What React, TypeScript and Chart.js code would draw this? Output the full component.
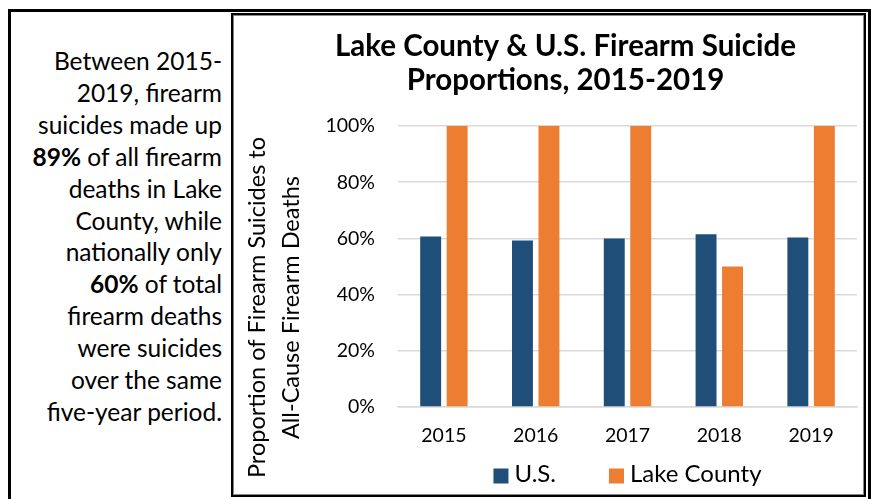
import React, { useEffect, useRef } from 'react';
import { Chart, registerables } from 'chart.js';
Chart.register(...registerables);

const categories = ['2015', '2016', '2017', '2018', '2019'];
const usValues = [60.7, 59.3, 60.0, 61.5, 60.3];
const lakeValues = [100, 100, 100, 50, 100];
const seriesNames = ['U.S.', 'Lake County'];
const seriesColors = ['#1F4E79', '#ED7D31'];
const chartTitle = ['Lake County & U.S. Firearm Suicide', 'Proportions, 2015-2019'];
const yAxisTitle = ['Proportion of Firearm Suicides to', 'All-Cause Firearm Deaths'];
const yMin = 0;
const yMax = 100;
const yStep = 20;

const FONT = 'Lato, Carlito, "Open Sans", sans-serif';

const yTitlePlugin = {
  id: 'yTitle',
  afterDraw(chart: any) {
    const ctx = chart.ctx;
    const area = chart.chartArea;
    ctx.save();
    ctx.fillStyle = '#000';
    ctx.font = `23.5px ${FONT}`;
    ctx.textAlign = 'center';
    ctx.textBaseline = 'middle';
    const cy = (area.top + area.bottom) / 2 + 41;
    const xs = [area.left - 140.5, area.left - 107];
    yAxisTitle.forEach((t, i) => {
      ctx.save();
      ctx.translate(xs[i], cy);
      ctx.rotate(-Math.PI / 2);
      ctx.fillText(t, 0, 0);
      ctx.restore();
    });
    ctx.restore();
  },
};

const legendPlugin = {
  id: 'bottomLegend',
  afterDraw(chart: any) {
    const ctx = chart.ctx;
    const area = chart.chartArea;
    ctx.save();
    ctx.font = `24px ${FONT}`;
    const box = 15;
    const gap = 6;
    const spacing = 53;
    const items = chart.data.datasets.map((ds: any) => ({
      text: ds.label,
      color: ds.backgroundColor,
      w: ctx.measureText(ds.label).width,
    }));
    const total =
      items.reduce((s: number, it: any) => s + box + gap + it.w, 0) + spacing * (items.length - 1);
    let x = (area.left + area.right) / 2 - total / 2;
    const cy = area.bottom + 68;
    items.forEach((it: any) => {
      ctx.fillStyle = it.color;
      ctx.fillRect(x, cy - 6.5, box, box);
      ctx.fillStyle = '#000';
      ctx.textAlign = 'left';
      ctx.textBaseline = 'middle';
      ctx.fillText(it.text, x + box + gap, cy - 1);
      x += box + gap + it.w + spacing;
    });
    ctx.restore();
  },
};

export default function App() {
  const ref = useRef<HTMLCanvasElement>(null);
  useEffect(() => {
    if (!ref.current) return;
    const chart = new Chart(ref.current, {
      type: 'bar',
      data: {
        labels: categories,
        datasets: [
          {
            label: seriesNames[0],
            data: usValues,
            backgroundColor: seriesColors[0],
            categoryPercentage: 0.577,
            barPercentage: 0.79,
          },
          {
            label: seriesNames[1],
            data: lakeValues,
            backgroundColor: seriesColors[1],
            categoryPercentage: 0.577,
            barPercentage: 0.79,
          },
        ],
      },
      options: {
        responsive: false,
        devicePixelRatio: 1,
        animation: false,
        layout: { padding: { left: 40, right: 7, top: 0, bottom: 41 } },
        plugins: {
          title: {
            display: true,
            text: chartTitle,
            color: '#000',
            font: { family: FONT, size: 29.5, weight: 'bold', lineHeight: 1.17 },
            padding: { top: 13, bottom: 28 },
          },
          legend: { display: false },
          tooltip: { enabled: false },
        },
        scales: {
          x: {
            grid: { display: false, drawTicks: false },
            border: { display: true, color: '#d9d9d9', width: 1.5 },
            ticks: { color: '#000', font: { family: FONT, size: 19.5 }, padding: 17 },
            afterFit(scale: any) {
              scale.height = 47;
            },
          },
          y: {
            min: yMin,
            max: yMax,
            ticks: {
              stepSize: yStep,
              color: '#000',
              font: { family: FONT, size: 19.5 },
              padding: 23,
              callback: (v: any) => `${v}%`,
            },
            grid: { color: '#d9d9d9', lineWidth: 1.5, drawTicks: false },
            border: { display: false },
            afterFit(scale: any) {
              scale.width = 124;
            },
          },
        },
      },
      plugins: [yTitlePlugin, legendPlugin],
    });
    return () => chart.destroy();
  }, []);

  const lines: React.ReactNode[] = [
    'Between 2015-',
    '2019, firearm',
    'suicides made up',
    <><b>89%</b> of all firearm</>,
    'deaths in Lake',
    'County, while',
    'nationally only',
    <><b>60%</b> of total</>,
    'firearm deaths',
    'were suicides',
    'over the same',
    'five-year period.',
  ];

  return (
    <div>
      <div
        style={{
          position: 'absolute',
          left: 8,
          top: 9,
          width: 863,
          height: 500,
          border: '3px solid #000',
          boxSizing: 'border-box',
          background: '#fff',
        }}
      />
      <div
        style={{
          position: 'absolute',
          left: 10,
          top: 45,
          width: 212,
          textAlign: 'right',
          fontFamily: FONT,
          fontSize: 24.5,
          lineHeight: '31.9px',
          color: '#000',
          whiteSpace: 'nowrap',
        }}
      >
        {lines.map((l, i) => (
          <div key={i}>{l}</div>
        ))}
      </div>
      <div
        style={{
          position: 'absolute',
          left: 231,
          top: 13,
          width: 635,
          height: 484,
          border: '2px solid #000',
          boxShadow: 'inset 0 0 0 1px #888',
          boxSizing: 'border-box',
          background: '#fff',
        }}
      />
      <canvas
        ref={ref}
        width={630}
        height={479}
        style={{ position: 'absolute', left: 234, top: 16, width: 630, height: 479 }}
      />
    </div>
  );
}
